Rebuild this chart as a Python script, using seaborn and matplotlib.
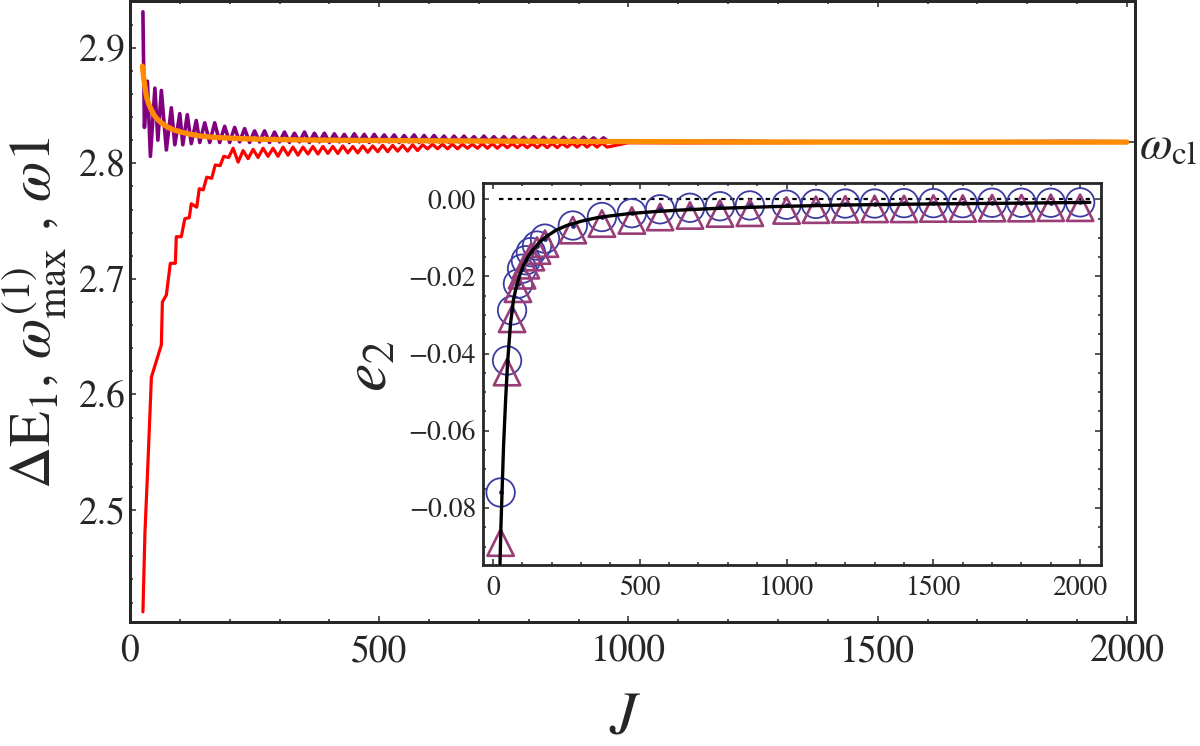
import numpy as np
import pandas as pd
import matplotlib
matplotlib.use('Agg')
import matplotlib.pyplot as plt
from matplotlib.ticker import MultipleLocator, FormatStrFormatter, FuncFormatter
import seaborn as sns

# ---- main panel data ----
# purple: omega_max^(1)
purple_J = [26, 29, 35, 41, 50, 56, 63, 73, 83, 90, 100, 106, 115, 123, 133, 140] \
    + list(range(150, 961, 10)) + list(range(1000, 2001, 100))
purple_val = [2.931, 2.831, 2.871, 2.806, 2.865, 2.820, 2.863, 2.8115, 2.848, 2.816,
              2.843, 2.816, 2.842, 2.817, 2.837, 2.818,
              2.835, 2.818, 2.835, 2.818, 2.832, 2.818, 2.831, 2.8185, 2.830, 2.818,
              2.828, 2.8185, 2.828, 2.818, 2.827, 2.8185, 2.827, 2.818, 2.826, 2.8185,
              2.827, 2.818, 2.826, 2.8185, 2.826, 2.818, 2.8255, 2.8185, 2.825, 2.818,
              2.8255, 2.8185, 2.825, 2.818, 2.825, 2.8185, 2.8245, 2.8185, 2.8245, 2.818,
              2.824, 2.8185, 2.8245, 2.818, 2.824, 2.8185, 2.824, 2.8185, 2.8235, 2.818,
              2.8235, 2.8185, 2.8235, 2.8185, 2.823, 2.8185, 2.8235, 2.8185, 2.823, 2.8185,
              2.823, 2.8185, 2.823, 2.8185, 2.8225, 2.8185, 2.823, 2.8185, 2.8225, 2.8185,
              2.8225, 2.8185, 2.8225, 2.8185, 2.822, 2.8185, 2.8225, 2.8185, 2.822, 2.8185,
              2.822, 2.8185,
              2.8188, 2.8187, 2.8192, 2.8186, 2.8186, 2.8186, 2.8186, 2.8186, 2.8187, 2.8189, 2.8186]

# red: Delta E_1
red_J = [26, 30, 36, 43, 63, 65, 73, 81, 91, 93, 103, 110, 119, 123, 134, 139, 147,
         154, 164, 171, 181, 188, 198] + list(range(207, 958, 10)) + list(range(1000, 2001, 100))
red_val = [2.412, 2.480, 2.540, 2.615, 2.643, 2.680, 2.686, 2.7135, 2.7135, 2.7365,
           2.7365, 2.752, 2.753, 2.765, 2.762, 2.778, 2.777, 2.788, 2.787, 2.7985,
           2.798, 2.806, 2.805,
           2.813, 2.801, 2.811, 2.804, 2.812, 2.805, 2.813, 2.806, 2.813, 2.806,
           2.814, 2.807, 2.814, 2.807, 2.814, 2.808, 2.8145, 2.808, 2.8145, 2.8085,
           2.8145, 2.8085, 2.815, 2.809, 2.8145, 2.809, 2.815, 2.8095, 2.815, 2.810,
           2.8155, 2.810, 2.8155, 2.8105, 2.8155, 2.8105, 2.816, 2.811, 2.816, 2.8125,
           2.8165, 2.8125, 2.8165, 2.8125, 2.8165, 2.8125, 2.8165, 2.813, 2.8165, 2.813,
           2.817, 2.813, 2.817, 2.813, 2.817, 2.8135, 2.817, 2.8135, 2.817, 2.8135,
           2.817, 2.8135, 2.8172, 2.8135, 2.8172, 2.8135, 2.8172, 2.814, 2.8175, 2.814,
           2.8175, 2.814, 2.8175, 2.814, 2.8175, 2.814,
           2.8178, 2.8176, 2.8177, 2.8178, 2.818, 2.8181, 2.8181, 2.8182, 2.8182, 2.8182, 2.8182]

# orange: omega_1 (smooth curve)
orange_J = [25, 27, 30, 33, 37, 42, 48, 55, 63, 74, 87, 100, 120, 140, 170, 207, 260,
            341, 450, 642, 900, 1300, 1700, 2000]
orange_val = [2.884, 2.876, 2.866, 2.858, 2.852, 2.847, 2.842, 2.838, 2.835, 2.8317,
              2.829, 2.8273, 2.8252, 2.8236, 2.8224, 2.8216, 2.8208, 2.8202, 2.8198,
              2.8194, 2.8189, 2.8184, 2.8183, 2.8183]

omega_cl = 2.8182

# ---- inset data ----
e2_J = [26, 48, 65, 85, 99, 112, 129, 150, 177, 272, 371, 473, 569, 671, 773, 875,
        1000, 1100, 1200, 1300, 1400, 1500, 1600, 1700, 1800, 1900, 2000]
e2_circ = [-0.076, -0.0418, -0.0288, -0.0219, -0.018, -0.0158, -0.0137, -0.012, -0.0102,
           -0.0068, -0.0046, -0.0036, -0.0026, -0.0022, -0.0018, -0.0016, -0.0014,
           -0.0012, -0.0011, -0.0011, -0.0010, -0.0010, -0.0010, -0.0009, -0.0009,
           -0.0009, -0.0008]
e2_tri = [-0.089, -0.0448, -0.031, -0.0232, -0.0197, -0.0171, -0.015, -0.0133, -0.0115,
          -0.008, -0.0063, -0.0055, -0.0046, -0.0042, -0.0037, -0.0035, -0.0029,
          -0.0027, -0.0026, -0.0025, -0.0025, -0.0024, -0.0024, -0.0023, -0.0023,
          -0.0022, -0.0022]
fit_J = [24, 27, 31, 36, 43, 50, 60, 70, 80, 92, 103, 120, 137, 160, 183, 215, 251, 300,
         353, 400, 466, 550, 637, 750, 954, 1181, 1500, 1800, 2033]
fit_val = [-0.0944, -0.085, -0.0756, -0.064, -0.052, -0.042, -0.032, -0.026, -0.0225,
           -0.0195, -0.0172, -0.0148, -0.0130, -0.0110, -0.0096, -0.0080, -0.0068,
           -0.0057, -0.0048, -0.0043, -0.0037, -0.0032, -0.0028, -0.0024, -0.0019,
           -0.0015, -0.0012, -0.0010, -0.0008]
zero_span = [20, 2033]

sns.set_style('ticks')
plt.rcParams['font.family'] = ['STIXGeneral', 'DejaVu Serif']
plt.rcParams['mathtext.fontset'] = 'stix'
plt.rcParams['axes.linewidth'] = 2

fig = plt.figure(figsize=(12, 7.46), dpi=100)
ax = fig.add_axes([0.1083, 0.1662, 0.8375, 0.8325])

sns.lineplot(x=purple_J, y=purple_val, color='#800080', linewidth=2.6, sort=False,
             estimator=None, ax=ax)
sns.lineplot(x=red_J, y=red_val, color='#ff0000', linewidth=2.3, sort=False,
             estimator=None, ax=ax)
sns.lineplot(x=orange_J, y=orange_val, color='#ff8c00', linewidth=3.8, sort=False,
             estimator=None, ax=ax)

ax.set_xlim(0, 2016)
ax.set_ylim(2.4032, 2.9404)
ax.xaxis.set_major_locator(MultipleLocator(500))
ax.xaxis.set_minor_locator(MultipleLocator(100))
ax.yaxis.set_major_locator(MultipleLocator(0.1))
ax.yaxis.set_minor_locator(MultipleLocator(0.02))
ax.yaxis.set_major_formatter(FormatStrFormatter('%.1f'))
ax.tick_params(which='both', direction='in', top=True, right=False, width=1.1)
ax.tick_params(which='major', length=4.5, labelsize=27)
ax.tick_params(which='minor', length=2.5)
ax.tick_params(axis='x', which='major', pad=9)
ax.tick_params(axis='y', which='major', pad=3)

ax.set_xlabel(r'$J$', fontsize=44)
ax.xaxis.set_label_coords(0.4925, -0.112)
ax.set_ylabel(r'$\Delta$E$_1$, $\omega_{\mathrm{max}}^{(1)}$ , $\omega$1', fontsize=42)
ax.yaxis.set_label_coords(-0.062, 0.4976)

# right axis with the classical frequency
ax_r = ax.twinx()
ax_r.set_ylim(ax.get_ylim())
ax_r.set_yticks([omega_cl])
ax_r.set_yticklabels([r'$\omega_{\mathrm{cl}}$'])
ax_r.tick_params(axis='y', direction='in', length=4.5, width=1.1, labelsize=34, pad=3)
ax_r.yaxis.set_minor_locator(plt.NullLocator())

# ---- inset ----
axin = fig.add_axes([0.4025, 0.2426, 0.515, 0.512])
axin.set_facecolor('white')
axin.hlines(0, zero_span[0], zero_span[1], colors='black', linestyles=(0, (2, 2)),
            linewidth=1.6)
sns.scatterplot(x=e2_J, y=e2_circ, marker='o', s=420, facecolor='none',
                edgecolor='#3c3ca0', linewidth=1.3, ax=axin, zorder=3)
sns.scatterplot(x=e2_J, y=e2_tri, marker='^', s=360, facecolor='none',
                edgecolor='#993d77', linewidth=1.9, ax=axin, zorder=3)
sns.scatterplot(x=e2_J, y=e2_circ, marker='o', s=12, color='#2d2d80',
                linewidth=0, ax=axin, zorder=4)
sns.lineplot(x=fit_J, y=fit_val, color='black', linewidth=2.4, sort=False,
             estimator=None, ax=axin, zorder=5)

axin.set_xlim(-34, 2071)
axin.set_ylim(-0.0948, 0.0042)
axin.xaxis.set_major_locator(MultipleLocator(500))
axin.xaxis.set_minor_locator(MultipleLocator(100))
axin.yaxis.set_major_locator(MultipleLocator(0.02))
axin.yaxis.set_minor_locator(MultipleLocator(0.005))
axin.yaxis.set_major_formatter(FuncFormatter(lambda v, p: ('%.2f' % v).replace('-', '\u2212')))
axin.tick_params(which='both', direction='in', top=True, right=True, width=1.1)
axin.tick_params(which='major', length=4.5, labelsize=20)
axin.tick_params(which='minor', length=2.5)
axin.tick_params(axis='x', which='major', pad=8)
axin.tick_params(axis='y', which='major', pad=5)
axin.set_xlabel('')
axin.set_ylabel(r'$e_2$', fontsize=46)
axin.yaxis.set_label_coords(-0.134, 0.52)

fig.savefig('out.png', dpi=100)
